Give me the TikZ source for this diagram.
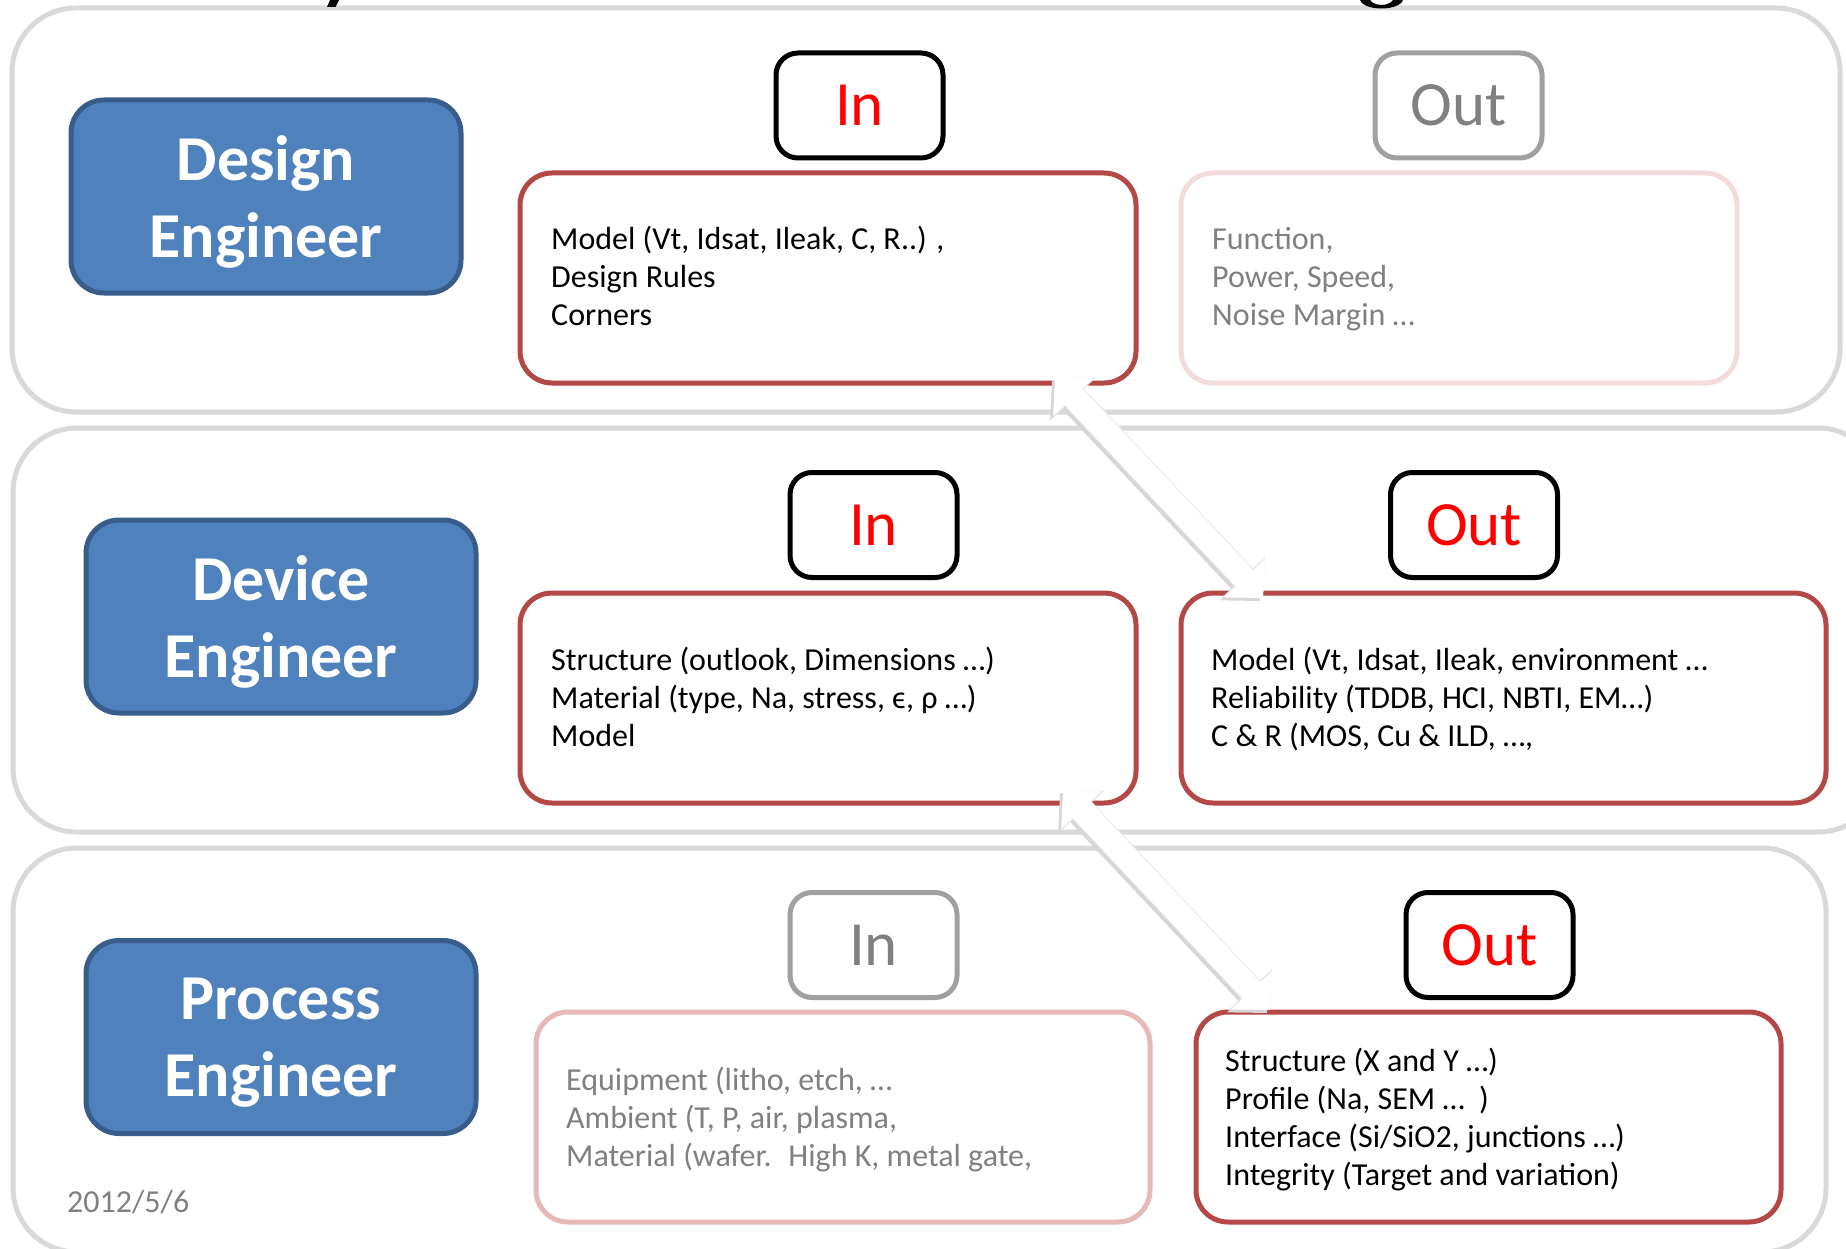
\documentclass[tikz,border=0pt]{standalone}
\usepackage{fontspec}
\setmainfont{Carlito}
\usetikzlibrary{arrows.meta}
\definecolor{panelgray}{RGB}{217,217,217}
\definecolor{bluefill}{RGB}{79,129,189}
\definecolor{blueedge}{RGB}{56,93,138}
\definecolor{redbox}{RGB}{180,72,70}
\definecolor{palebox}{RGB}{242,220,219}
\definecolor{pinkbox}{RGB}{230,184,183}
\definecolor{txtgray}{RGB}{128,128,128}
\definecolor{boxgray}{RGB}{160,160,160}
\definecolor{inred}{RGB}{255,0,0}
\begin{document}
\begin{tikzpicture}[x=1pt,y=-1pt,
  panel/.style={draw=panelgray, line width=5pt, rounded corners=64pt},
  rolebox/.style={draw=blueedge, fill=bluefill, line width=5pt, rounded corners=33pt,
    minimum width=390pt, minimum height=193pt, inner sep=0pt},
  roletext/.style={text=white, font=\fontsize{64}{77}\selectfont\bfseries, align=center, inner sep=0pt},
  tagbox/.style={draw=black, line width=5pt, rounded corners=22pt, minimum width=167pt,
    minimum height=105pt, inner sep=0pt, text=inred, font=\fontsize{63}{70}\selectfont},
  taggray/.style={tagbox, draw=boxgray, text=txtgray},
  contbox/.style={draw=redbox, line width=5pt, rounded corners=32pt, minimum height=210pt, inner sep=0pt},
  conttext/.style={anchor=base west, inner sep=0pt, font=\fontsize{32}{38}\selectfont},
  blockarrow/.style={line width=24pt, draw=white, line cap=butt,
    {Triangle[width=54pt,length=27pt]}-{Triangle[width=54pt,length=27pt]}},
  arrowrim/.style={line width=26pt, draw=black!9, line cap=butt,
    {Triangle[width=57pt,length=28.5pt]}-{Triangle[width=57pt,length=28.5pt]}},
  arrowshadow/.style={line width=25pt, draw=black!16, line cap=butt,
    {Triangle[width=56pt,length=28pt]}-{Triangle[width=56pt,length=28pt]}}
]
\useasboundingbox (0,0) rectangle (1846,1249);
\fill[white] (0,0) rectangle (1846,1249);

% panels
\draw[panel] (12,8) rectangle (1840,412);
\draw[panel] (13,428) rectangle (1882,832);
\draw[panel] (13,848) rectangle (1826,1252);

% title fragments (cut off at top)
\fill (330,0) -- (339,0) -- (335.5,7) -- (327,7) -- cycle;
\fill[even odd rule] (1381.5,-1) ellipse (21.5 and 9.5) (1381.5,-4) ellipse (13 and 9);

% role boxes
\node[rolebox] (design) at (266,196.5) {};
\node[roletext] (designT) at ([yshift=-5.5pt]design.center) {Design\\Engineer};
\node[rolebox] (device) at (281,616.5) {};
\node[roletext] (deviceT) at ([yshift=-5.5pt]device.center) {Device\\Engineer};
\node[rolebox] (process) at (281,1037) {};
\node[roletext] (processT) at ([yshift=-5.5pt]process.center) {Process\\Engineer};

% In / Out tags
\node[tagbox] (inA) at (859.5,105.5) {In};
\node[taggray] (outA) at (1458.5,105.5) {Out};
\node[tagbox] (inB) at (873.5,525) {In};
\node[tagbox] (outB) at (1474,525) {Out};
\node[taggray] (inC) at (873.5,945) {In};
\node[tagbox] (outC) at (1489.5,945) {Out};

% content boxes
\node[contbox, minimum width=616pt] (boxA1) at (828,278) {};
\node[contbox, draw=palebox, minimum width=556pt] (boxA2) at (1459,278) {};
\node[contbox, minimum width=616pt] (boxB1) at (828,698) {};
\node[contbox, minimum width=645pt] (boxB2) at (1503.5,698) {};
\node[contbox, draw=pinkbox, minimum width=614pt] (boxC1) at (843,1117) {};
\node[contbox, minimum width=585pt] (boxC2) at (1488.5,1117) {};

% content texts
\node[conttext] (tA1) at (551,250) {\begin{tabular}[t]{@{}l@{}}Model (Vt, Idsat, Ileak, C, R..) ,\\Design Rules\\Corners\end{tabular}};
\node[conttext, text=txtgray] (tA2) at (1212,250) {\begin{tabular}[t]{@{}l@{}}Function,\\Power, Speed,\\Noise Margin …\end{tabular}};
\node[conttext] (tB1) at (551,670) {\begin{tabular}[t]{@{}l@{}}Structure (outlook, Dimensions …)\\Material (type, Na, stress, ϵ, ρ …)\\Model\end{tabular}};
\node[conttext] (tB2) at (1211,670) {\begin{tabular}[t]{@{}l@{}}Model (Vt, Idsat, Ileak, environment …\\Reliability (TDDB, HCI, NBTI, EM…)\\C \& R (MOS, Cu \& ILD, …,\end{tabular}};
\node[conttext, text=txtgray] (tC1) at (566,1090) {\begin{tabular}[t]{@{}l@{}}Equipment (litho, etch, …\\Ambient (T, P, air, plasma,\\Material (wafer.~ High K, metal gate,\end{tabular}};
\node[conttext] (tC2) at (1225,1071) {\begin{tabular}[t]{@{}l@{}}Structure (X and Y …)\\Profile (Na, SEM …~ )\\Interface (Si/SiO2, junctions …)\\Integrity (Target and variation)\end{tabular}};

% date
\node[anchor=base west, inner sep=0pt, text=txtgray, font=\fontsize{32}{38}\selectfont] (date) at (67,1212) {2012/5/6};

% block arrows
\coordinate (a1) at (1055,377);
\coordinate (b1) at (1263,598);
\coordinate (a2) at (1063,790);
\coordinate (b2) at (1270,1010);
\draw[arrowshadow] ([shift={(-3,3)}]a1) -- ([shift={(-3,3)}]b1);
\draw[arrowrim] (a1) -- (b1);
\draw[blockarrow] (a1) -- (b1);
\draw[arrowshadow] ([shift={(-3,3)}]a2) -- ([shift={(-3,3)}]b2);
\draw[arrowrim] (a2) -- (b2);
\draw[blockarrow] (a2) -- (b2);
\end{tikzpicture}
\end{document}
